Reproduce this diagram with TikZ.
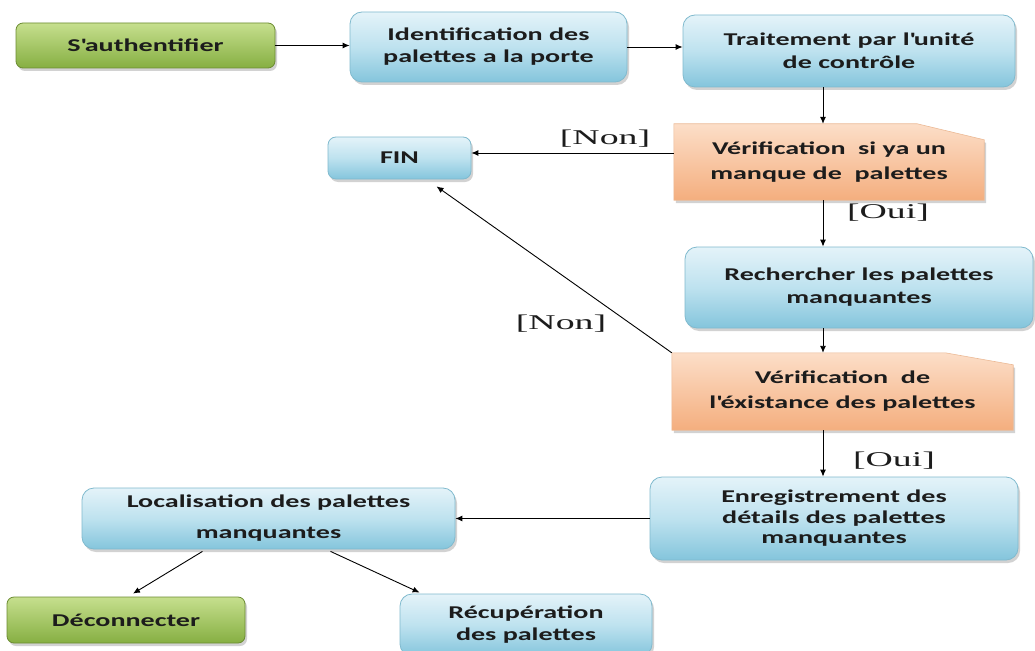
\documentclass[tikz,border=0pt]{standalone}
\usepackage{fontspec}
\newfontfamily\boxfont{Carlito}[FakeStretch=1.56]
\newfontfamily\labfont{Liberation Serif}[FakeStretch=1.8]
\usetikzlibrary{arrows.meta,shadows,backgrounds}
\definecolor{blueL}{RGB}{228,243,249}
\definecolor{blueM}{RGB}{190,226,239}
\definecolor{blueD}{RGB}{132,197,220}
\definecolor{blueB}{RGB}{128,186,206}
\definecolor{greenL}{RGB}{198,223,142}
\definecolor{greenD}{RGB}{134,175,66}
\definecolor{greenB}{RGB}{108,140,50}
\definecolor{orL}{RGB}{252,222,200}
\definecolor{orD}{RGB}{244,174,126}
\definecolor{orB}{RGB}{236,186,150}
\definecolor{txt}{RGB}{28,28,28}
\begin{document}
\begin{tikzpicture}[x=1pt,y=-1pt,
  fs/.style={font={\boxfont\bfseries\fontsize{18}{#1}\selectfont}},
  box/.style={fs=22, text=txt, align=center, inner sep=0pt},
  shad/.style={drop shadow={shadow xshift=2pt,shadow yshift=-3pt,opacity=0.35}},
  bluebox/.style={box, rounded corners=12pt, draw=blueB, line width=0.8pt,
    top color=blueL, bottom color=blueD, middle color=blueM, shad},
  greenbox/.style={box, rounded corners=7pt, draw=greenB, line width=0.8pt,
    top color=greenL, bottom color=greenD, shad},
  orbox/.style={box},
  orshape/.style={draw=orB, line width=0.6pt, top color=orL, bottom color=orD, shad},
  lab/.style={font={\labfont\fontsize{21}{24}\selectfont}, inner sep=0pt, text=txt},
  arr/.style={-{Latex[length=7pt,width=6pt]}, line width=0.9pt, black}]
\useasboundingbox (0,0) rectangle (1035,650);
\begin{scope}[on background layer]
  \fill[white] (0,0) rectangle (1035,650);
\end{scope}

% nodes
\node[greenbox, minimum width=259pt, minimum height=45pt] (auth) at (145.5,45.5) {S\textquotesingle authentifier};
\node[bluebox, minimum width=277pt, minimum height=70pt] (ident) at (488.5,47) {Identification des\\palettes a la porte};
\node[bluebox, fs=23, minimum width=332pt, minimum height=72pt] (trait) at (849,51) {Traitement par l\textquotesingle unité\\de contrôle};
\node[bluebox, rounded corners=8pt, minimum width=143pt, minimum height=42pt] (fin) at (399.5,158) {FIN};
\node[orbox, fs=25, minimum width=310pt, minimum height=76pt] (ver1) at (829,162) {Vérification\ \ si ya un\\manque de\ \ palettes};
\node[bluebox, fs=23, minimum width=348pt, minimum height=81pt] (rech) at (859,287.5) {Rechercher les palettes\\manquantes};
\node[orbox, fs=25, minimum width=341pt, minimum height=77pt] (ver2) at (842.5,391.5) {Vérification\ \ de\\l\textquotesingle éxistance des palettes};
\node[bluebox, fs=20.5, minimum width=368pt, minimum height=83pt] (enreg) at (834,518.5) {Enregistrement des\\détails des palettes\\manquantes};
\node[bluebox, fs=31, minimum width=373pt, minimum height=61pt] (local) at (268.5,518.5) {Localisation des palettes\\manquantes};
\node[greenbox, minimum width=238pt, minimum height=46pt] (deco) at (126,620) {Déconnecter};
\node[bluebox, minimum width=252pt, minimum height=62pt] (recup) at (526,625) {Récupération\\des palettes};

% decision shapes (cut top-right corner)
\begin{scope}[on background layer]
  \path[orshape] (ver1.north west) -- ([xshift=-67pt]ver1.north east) -- ([yshift=-16pt]ver1.north east)
    -- (ver1.south east) -- (ver1.south west) -- cycle;
  \path[orshape] (ver2.north west) -- ([xshift=-68pt]ver2.north east) -- ([yshift=-12pt]ver2.north east)
    -- (ver2.south east) -- (ver2.south west) -- cycle;
\end{scope}

% helper coordinates
\coordinate (vline) at (823,0);
\coordinate (nonrow) at (0,153);

% connectors
\draw[arr] (auth.east) -- (auth.east -| ident.west);
\draw[arr] (ident.east) -- (ident.east -| trait.west);
\draw[arr] (trait.south -| vline) -- (ver1.north -| vline);
\draw[arr] (ver1.west |- nonrow) -- (fin.east |- nonrow);
\draw[arr] (ver1.south -| vline) -- (rech.north -| vline);
\draw[arr] (rech.south -| vline) -- (ver2.north -| vline);
\draw[arr] (ver2.north west) -- ([xshift=37pt,yshift=-7pt]fin.south);
\draw[arr] (ver2.south -| vline) -- (enreg.north -| vline);
\draw[arr] (enreg.west) -- (local.east);
\draw[arr] ([xshift=-66pt,yshift=-2pt]local.south) -- ([xshift=7pt,yshift=3pt]deco.north);
\draw[arr] ([xshift=62pt,yshift=-2pt]local.south) -- ([xshift=20pt,yshift=1pt]recup.north west);

% labels
\node[lab] (l1) at (605,139) {[Non]};
\node[lab] (l2) at (888,213) {[Oui]};
\node[lab] (l3) at (561,324) {[Non]};
\node[lab] (l4) at (894,461) {[Oui]};
\end{tikzpicture}
\end{document}
